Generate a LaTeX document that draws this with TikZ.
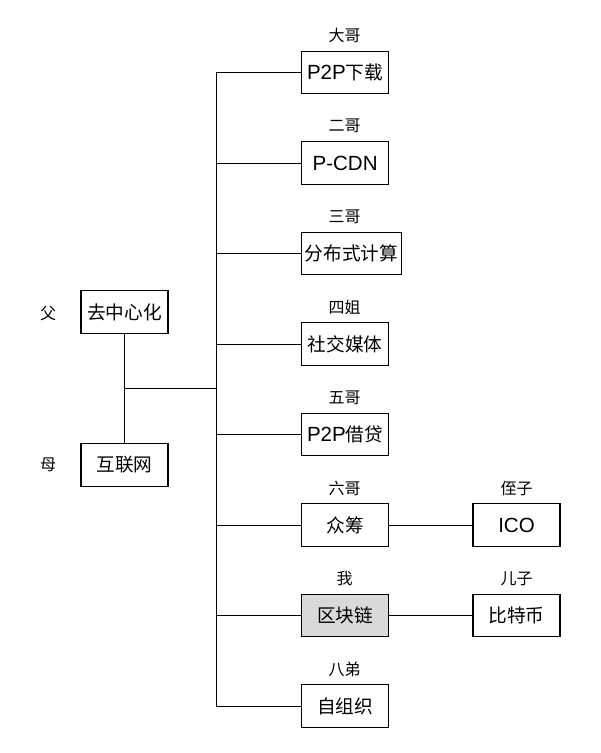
\documentclass[tikz,border=0pt]{standalone}
\usepackage{fontspec}
\setmainfont{Noto Sans CJK SC}
\newfontfamily\lat[Scale=1.1]{Liberation Sans}
\begin{document}
\begin{tikzpicture}[x=0.75pt,y=-0.75pt,
  box/.style={draw=black,line width=0.9pt,minimum width=65.25pt,minimum height=32pt,inner xsep=2.5pt,inner ysep=0pt,font=\fontsize{14}{15}\selectfont},
  lab/.style={font=\fontsize{12}{13}\selectfont,inner sep=0pt},
  conn/.style={line width=0.75pt}]
\useasboundingbox (0,0) rectangle (600,753);
\node[box] (father) at (124.5,312) {去中心化};
\node[box] (mother) at (124.5,465) {互联网};
\node[lab] (fl) at (48,313) {父};
\node[lab] (ml) at (48,465) {母};
\coordinate (mid) at (124.5,388);
\coordinate (jt) at (216,388);
\draw[conn] (father) -- (mother);
\draw[conn] (mid) -- (jt);
\foreach \n/\y/\t/\l in {b1/72.5/{{\lat P2P}下载}/大哥, b2/163/{{\lat P-CDN}}/二哥, b3/253.5/分布式计算/三哥, b4/344/社交媒体/四姐, b5/434.5/{{\lat P2P}借贷}/五哥, b6/525/众筹/六哥, b8/706/自组织/八弟}{
  \node[box,anchor=west] (\n) at (301,\y) {\t};
  \node[lab] (\n l) at (344.5,\y-37) {\l};
  \coordinate (\n t) at (216,\y);
  \draw[conn] (\n t) -- (\n.west |- \n t);
}
\node[box,fill=black!15,anchor=west] (b7) at (301,615.5) {区块链};
\node[lab] (b7l) at (344.5,578.5) {我};
\coordinate (b7t) at (216,615.5);
\draw[conn] (b7t) -- (b7);
\draw[conn] (b1t) -- (b8t);
\node[box] (ico) at (516.5,525) {\lat ICO};
\node[lab] (icol) at (516.5,488) {侄子};
\node[box] (btc) at (516.5,615.5) {比特币};
\node[lab] (btcl) at (516.5,578.5) {儿子};
\draw[conn] (b6) -- (ico);
\draw[conn] (b7) -- (btc);
\end{tikzpicture}
\end{document}
